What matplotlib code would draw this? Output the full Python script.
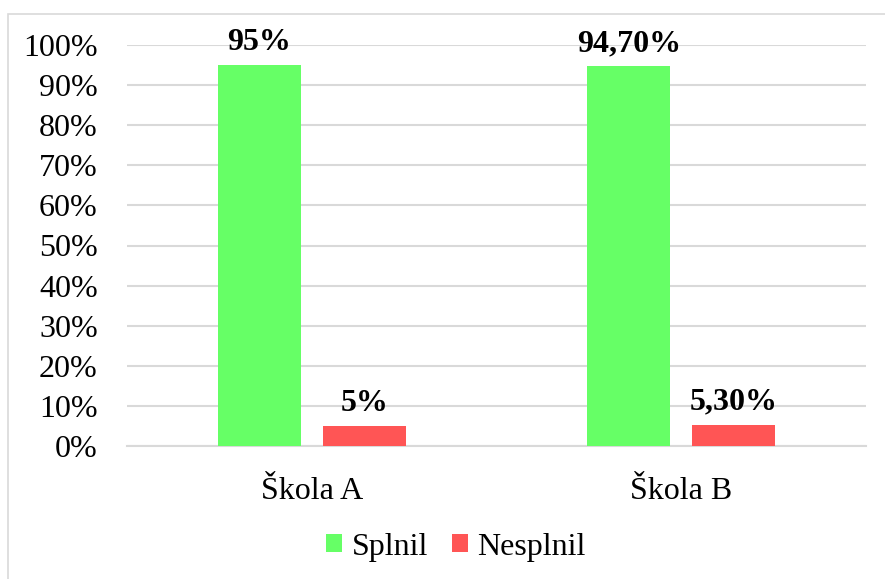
import matplotlib
matplotlib.use("Agg")
from matplotlib import pyplot as plt
from matplotlib.patches import Rectangle
import numpy as np

# data
schools = ["Škola A", "Škola B"]
splnil = [0.95, 0.947]
nesplnil = [0.05, 0.053]
splnil_labels = ["95%", "94,70%"]
nesplnil_labels = ["5%", "5,30%"]
yticks = [i / 10 for i in range(11)]
ytick_labels = [f"{i * 10}%" for i in range(11)]

plt.rcParams["font.family"] = ["Liberation Serif", "DejaVu Serif"]
green = "#66FF66"
red = "#FF5555"
grid_col = "#D9D9D9"
fs = 23

fig = plt.figure(figsize=(8.85, 5.79), dpi=100)
# outer chart frame (cut off at right/bottom like the original)
fig.patches.append(Rectangle((8 / 885, -0.05), 1.0, (579 - 14) / 579 + 0.05,
                             transform=fig.transFigure, fill=False,
                             edgecolor=grid_col, linewidth=1.2))

ax = fig.add_axes([127 / 885, 133 / 579, 739 / 885, 401 / 579])
x = np.arange(len(schools))
w = 0.2246
off = 0.1421
b1 = ax.bar(x - off, splnil, w, color=green, label="Splnil", zorder=3)
b2 = ax.bar(x + off, nesplnil, w, color=red, label="Nesplnil", zorder=3)

for bars, labs in ((b1, splnil_labels), (b2, nesplnil_labels)):
    for r, t in zip(bars, labs):
        ax.annotate(t, (r.get_x() + r.get_width() / 2, r.get_height()),
                    xytext=(0, 6), textcoords="offset points",
                    ha="center", va="bottom", fontsize=fs, fontweight="bold")

ax.set_xlim(-0.5, 1.5)
ax.set_ylim(0, 1)
ax.set_yticks(yticks)
ax.set_yticklabels(ytick_labels, fontsize=fs)
ax.set_xticks(x)
ax.set_xticklabels(schools, fontsize=fs)
ax.tick_params(axis="y", length=0, pad=21)
ax.tick_params(axis="x", length=0, pad=22)
ax.yaxis.grid(True, color=grid_col, linewidth=1.5, zorder=0)
for s in ["top", "right", "left"]:
    ax.spines[s].set_visible(False)
ax.spines["bottom"].set_color(grid_col)
ax.spines["bottom"].set_linewidth(1.5)

fig.legend(handles=[b1, b2], loc="center", bbox_to_anchor=(456 / 885, 1 - 547 / 579),
           ncol=2, frameon=False, fontsize=fs, handlelength=0.5, handleheight=0.5,
           handletextpad=0.3, columnspacing=0.75)

fig.savefig("out.png", dpi=100)
